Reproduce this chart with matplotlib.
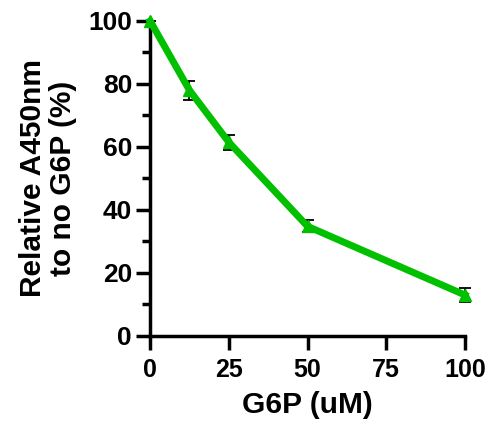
import numpy as np
import matplotlib.pyplot as plt
from matplotlib.ticker import MultipleLocator

plt.rcParams['font.family'] = ['Liberation Sans', 'DejaVu Sans']
plt.rcParams['font.weight'] = 'bold'

g6p = [0, 12.5, 25, 50, 100]
rel_a450 = [100, 78, 61.5, 34.8, 13]
err = [0, 3, 2.4, 1.9, 2.3]

fig = plt.figure(figsize=(4.89, 4.28), dpi=100)
ax = fig.add_axes([0.307, 0.215, 0.644, 0.736])

ax.errorbar(g6p, rel_a450, yerr=err, color='#00c000', lw=5, marker='^', ms=9,
            ecolor='black', elinewidth=1.3, capsize=4.5, capthick=1.3, clip_on=False, zorder=3)

ax.set_xlim(0, 100)
ax.set_ylim(0, 100)
ax.xaxis.set_major_locator(MultipleLocator(25))
ax.yaxis.set_major_locator(MultipleLocator(20))
ax.yaxis.set_minor_locator(MultipleLocator(10))

for s in ['top', 'right']:
    ax.spines[s].set_visible(False)
for s in ['left', 'bottom']:
    ax.spines[s].set_linewidth(2.5)
ax.tick_params(which='major', length=10, width=2.5, pad=3)
ax.tick_params(axis='y', labelsize=19)
ax.tick_params(axis='x', labelsize=18, pad=6)
ax.tick_params(which='minor', length=6, width=2.5)

ax.set_xlabel('G6P (uM)', fontsize=21.5, fontweight='bold', labelpad=6)
ax.set_ylabel('Relative A450nm\nto no G6P (%)', fontsize=21.5, fontweight='bold',
              labelpad=8, linespacing=1.1)

fig.savefig('out.png', dpi=100)
